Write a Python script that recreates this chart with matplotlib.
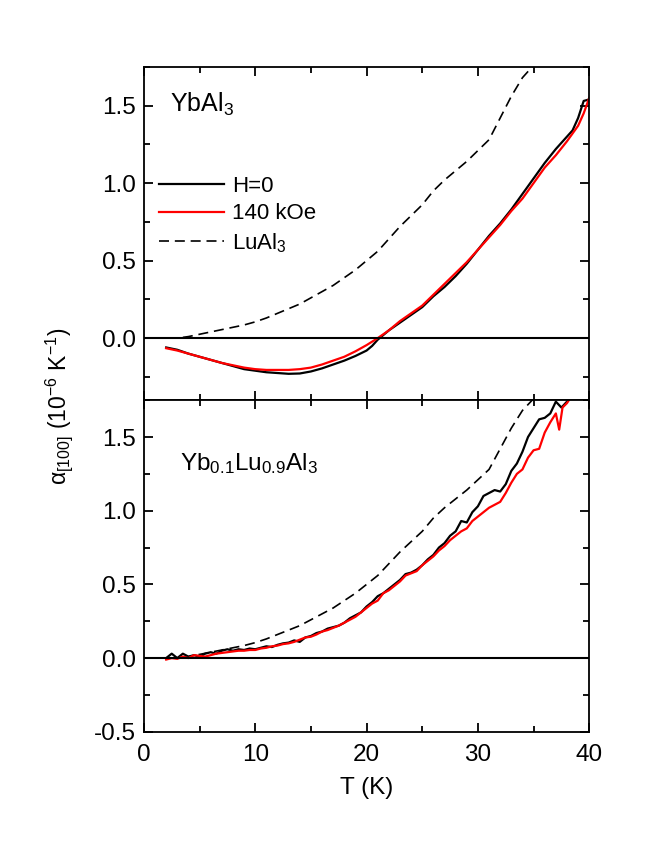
import matplotlib
matplotlib.use('Agg')
import matplotlib.pyplot as plt
from matplotlib.ticker import MultipleLocator, FormatStrFormatter

plt.rcParams['font.family'] = ['Liberation Sans', 'DejaVu Sans']
plt.rcParams['mathtext.fontset'] = 'custom'
plt.rcParams['mathtext.rm'] = 'Liberation Sans'
plt.rcParams['mathtext.it'] = 'Liberation Sans:italic'
plt.rcParams['mathtext.default'] = 'regular'

# YbAl3, top panel
T_yb = [2, 3, 4, 5, 6, 7, 8, 9, 10, 11, 12, 13, 14, 15, 16, 17, 18, 19, 20,
        20.5, 21, 21.5, 22, 23, 24, 25, 26, 27, 28, 29, 30, 31, 32, 33, 34,
        35, 36, 37, 38, 38.5, 39, 39.5, 40]
a_yb_h0 = [-0.06, -0.075, -0.10, -0.12, -0.14, -0.16, -0.18, -0.20, -0.21,
           -0.22, -0.225, -0.23, -0.228, -0.215, -0.195, -0.17, -0.145,
           -0.115, -0.08, -0.05, -0.01, 0.02, 0.05, 0.10, 0.15, 0.20, 0.27,
           0.33, 0.40, 0.48, 0.57, 0.66, 0.74, 0.83, 0.93, 1.03, 1.13, 1.22,
           1.30, 1.34, 1.42, 1.53, 1.54]
T_yb_h = [2, 3, 4, 5, 6, 7, 8, 9, 10, 11, 12, 13, 14, 15, 16, 17, 18, 19, 20,
          21, 22, 23, 24, 25, 26, 27, 28, 29, 30, 31, 32, 33, 34, 35, 36, 37,
          38, 39, 39.5, 40]
a_yb_h140 = [-0.065, -0.08, -0.10, -0.12, -0.14, -0.16, -0.175, -0.19, -0.20,
             -0.205, -0.205, -0.205, -0.20, -0.19, -0.17, -0.145, -0.12,
             -0.085, -0.045, 0.00, 0.05, 0.11, 0.16, 0.21, 0.28, 0.35, 0.42,
             0.49, 0.57, 0.65, 0.73, 0.82, 0.90, 1.00, 1.10, 1.18, 1.27, 1.37,
             1.45, 1.55]

# LuAl3 reference (both panels)
T_lu = [3.5, 4, 5, 6, 7, 8, 9, 10, 11, 12, 13, 14, 15, 16, 17, 18, 19, 20,
        21, 22, 23, 24, 25, 26, 27, 28, 29, 30, 31, 32, 33, 34, 35, 36]
a_lu = [0.005, 0.01, 0.025, 0.04, 0.055, 0.07, 0.085, 0.105, 0.13, 0.16,
        0.19, 0.22, 0.26, 0.30, 0.34, 0.39, 0.44, 0.50, 0.56, 0.64, 0.72,
        0.79, 0.86, 0.95, 1.02, 1.08, 1.14, 1.21, 1.28, 1.42, 1.56, 1.68,
        1.76, 1.82]

# Yb0.1Lu0.9Al3, bottom panel
T_mix = [2.0, 2.5, 3.0, 3.5, 4.0, 4.5, 5.0, 5.5, 6.0, 6.5, 7.0, 7.5, 8.0,
         8.5, 9.0, 9.5, 10.0, 10.5, 11.0, 11.5, 12.0, 12.5, 13.0, 13.5, 14.0,
         14.5, 15.0, 15.5, 16.0, 16.5, 17.0, 17.5, 18.0, 18.5, 19.0, 19.5,
         20.0, 20.5, 21.0, 21.5, 22.0, 22.5, 23.0, 23.5, 24.0, 24.5, 25.0,
         25.5, 26.0, 26.5, 27.0, 27.5, 28.0, 28.5, 29.0, 29.5, 30.0, 30.5,
         31.0, 31.5, 32.0, 32.5, 33.0, 33.5, 34.0, 34.5, 35.0, 35.5, 36.0,
         36.5, 37.0, 37.5, 38.0, 38.5, 39.0]
a_mix_h0 = [0.00, 0.03, 0.00, 0.03, 0.01, 0.02, 0.01, 0.03, 0.04, 0.03, 0.05,
            0.06, 0.05, 0.06, 0.055, 0.065, 0.06, 0.07, 0.08, 0.075, 0.09,
            0.10, 0.105, 0.12, 0.11, 0.14, 0.15, 0.17, 0.18, 0.20, 0.21,
            0.22, 0.24, 0.27, 0.29, 0.31, 0.35, 0.38, 0.42, 0.44, 0.47, 0.50,
            0.53, 0.57, 0.58, 0.60, 0.63, 0.67, 0.70, 0.75, 0.78, 0.83, 0.86,
            0.93, 0.92, 0.99, 1.03, 1.10, 1.12, 1.14, 1.13, 1.18, 1.27, 1.32,
            1.40, 1.50, 1.56, 1.62, 1.63, 1.66, 1.74, 1.70, 1.74, 1.78, 1.82]
T_mix_h = [2.0, 2.5, 3.0, 3.5, 4.0, 4.5, 5.0, 5.5, 6.0, 6.5, 7.0, 7.5, 8.0,
           8.5, 9.0, 9.5, 10.0, 10.5, 11.0, 11.5, 12.0, 12.5, 13.0, 13.5,
           14.0, 14.5, 15.0, 15.5, 16.0, 16.5, 17.0, 17.5, 18.0, 18.5, 19.0,
           19.5, 20.0, 20.5, 21.0, 21.5, 22.0, 22.5, 23.0, 23.5, 24.0, 24.5,
           25.0, 25.5, 26.0, 26.5, 27.0, 27.5, 28.0, 28.5, 29.0, 29.5, 30.0,
           30.5, 31.0, 31.5, 32.0, 32.5, 33.0, 33.5, 34.0, 34.5, 35.0, 35.5,
           36.0, 36.5, 37.0, 37.3, 37.6, 38.0, 38.5]
a_mix_h140 = [-0.01, 0.00, -0.005, 0.01, 0.00, 0.02, 0.015, 0.01, 0.02, 0.03,
              0.035, 0.04, 0.045, 0.05, 0.05, 0.055, 0.055, 0.065, 0.07, 0.08,
              0.085, 0.095, 0.10, 0.11, 0.125, 0.14, 0.145, 0.16, 0.18, 0.19,
              0.205, 0.22, 0.24, 0.26, 0.28, 0.31, 0.34, 0.37, 0.39, 0.44,
              0.46, 0.49, 0.52, 0.56, 0.575, 0.59, 0.63, 0.66, 0.69, 0.73,
              0.76, 0.80, 0.83, 0.86, 0.88, 0.93, 0.96, 0.99, 1.02, 1.04,
              1.06, 1.12, 1.19, 1.25, 1.28, 1.36, 1.41, 1.42, 1.53, 1.60,
              1.66, 1.55, 1.70, 1.73, 1.79]

fig = plt.figure(figsize=(6.54, 8.46), dpi=100)
ax1 = fig.add_axes([0.220, 0.527, 0.681, 0.394])
ax2 = fig.add_axes([0.220, 0.135, 0.681, 0.392])

lw = 1.6
dash = (0, (6, 3.5))
ax1.plot(T_yb, a_yb_h0, color='black', lw=lw, label='H=0')
ax1.plot(T_yb_h, a_yb_h140, color='red', lw=lw, label='140 kOe')
ax1.plot(T_lu, a_lu, color='black', lw=1.2, ls=dash, label='LuAl$_3$')

ax2.plot(T_lu, a_lu, color='black', lw=1.2, ls=dash)
ax2.plot(T_mix, a_mix_h0, color='black', lw=lw)
ax2.plot(T_mix_h, a_mix_h140, color='red', lw=lw)

for ax in (ax1, ax2):
    ax.axhline(0, color='black', lw=1.5)
    ax.set_xlim(0, 40)
    ax.xaxis.set_major_locator(MultipleLocator(10))
    ax.xaxis.set_minor_locator(MultipleLocator(5))
    ax.yaxis.set_major_locator(MultipleLocator(0.5))
    ax.yaxis.set_minor_locator(MultipleLocator(0.25))
    ax.tick_params(which='both', direction='in', top=True, right=True,
                   width=1.3, labelsize=17.5)
    ax.tick_params(axis='y', pad=6)
    ax.tick_params(axis='x', pad=9)
    ax.tick_params(which='major', length=6.5)
    ax.tick_params(which='minor', length=4)
    for s in ax.spines.values():
        s.set_linewidth(1.3)
    ax.yaxis.set_major_formatter(FormatStrFormatter('%.1f'))

ax1.set_ylim(-0.4, 1.75)
ax2.set_ylim(-0.5, 1.75)
ax1.tick_params(labelbottom=False)

ax1.text(0.058, 0.865, 'YbAl$_3$', transform=ax1.transAxes, fontsize=18)
ax2.text(0.08, 0.79, 'Yb$_{0.1}$Lu$_{0.9}$Al$_3$', transform=ax2.transAxes,
         fontsize=17.5)

ax1.legend(loc='upper left', bbox_to_anchor=(0.0, 0.72), frameon=False,
           fontsize=16, handlelength=2.9, handletextpad=0.35,
           labelspacing=0.3, borderaxespad=0.3)

ax2.set_xlabel('T (K)', fontsize=17.5, labelpad=8)
fig.text(0.09, 0.52, r'$\alpha_{[100]}$ (10$^{-6}$ K$^{-1}$)', rotation=90,
         fontsize=16.5, ha='center', va='center')

fig.savefig('out.png', dpi=100)
